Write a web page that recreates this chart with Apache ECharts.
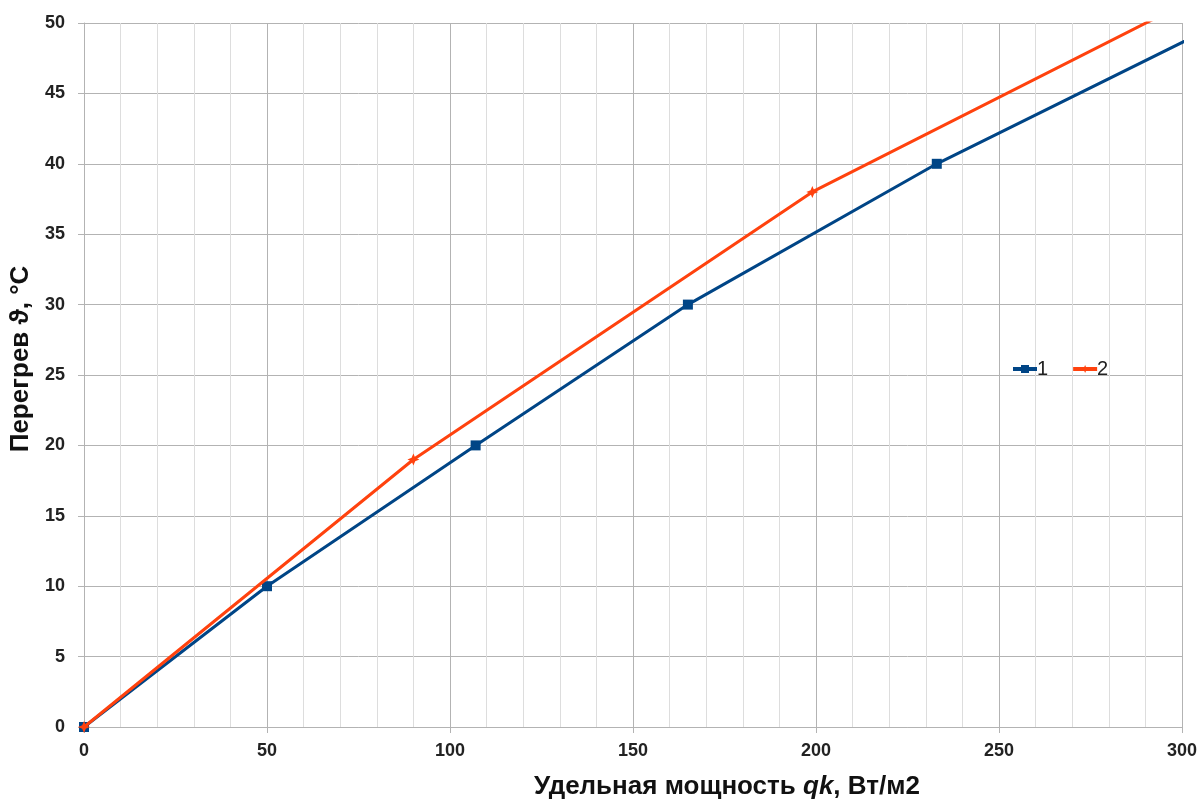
<!DOCTYPE html>
<html><head><meta charset="utf-8">
<script src="https://cdn.jsdelivr.net/npm/echarts@6/dist/echarts.min.js"></script>
<style>html,body{margin:0;padding:0;background:#fff}#c{width:1202px;height:803px}</style>
</head><body><div id="c"></div>
<script>
// Series 1 (blue, squares): x = specific power, y = overheat
const series1X = [0, 50, 107, 165, 233, 310];
const series1Y = [0, 10, 20, 30, 40, 49.9];
// Series 2 (orange, stars)
const series2X = [0, 90, 199, 300];
const series2Y = [0, 19, 38, 51.3];
const seriesNames = ['1', '2'];
const xTicks = [0, 50, 100, 150, 200, 250, 300];
const yTicks = [0, 5, 10, 15, 20, 25, 30, 35, 40, 45, 50];

const pairs = (xs, ys) => xs.map((x, i) => [x, ys[i]]);
const star = 'path://M0,-10 L3,-3 L10,0 L3,3 L0,10 L-3,3 L-10,0 L-3,-3 Z';
const font = 'Liberation Sans, Arial, sans-serif';

const chart = echarts.init(document.getElementById('c'), null, {renderer: 'canvas'});
chart.setOption({
  animation: false,
  backgroundColor: '#fff',
  grid: {left: 84, right: 20, top: 23, bottom: 76, outerBoundsMode: 'none', containLabel: false},
  legend: {
    left: 1011, top: 359, padding: 0, itemWidth: 24, itemHeight: 10, itemGap: 23,
    lineStyle: {width: 4},
    textStyle: {fontFamily: font, fontSize: 20, color: '#222', padding: [0, 0, 0, -5]},
    data: seriesNames
  },
  xAxis: {
    type: 'value', min: xTicks[0], max: xTicks[xTicks.length - 1], interval: 50,
    name: '{b|Удельная мощность }{i|qk}{b|, Вт/м2}',
    nameLocation: 'middle', nameGap: 47,
    nameTextStyle: {
      padding: [0, 0, 0, 188],
      rich: {
        b: {fontFamily: font, fontSize: 26, fontWeight: 'bold', color: '#111'},
        i: {fontFamily: font, fontSize: 26, fontWeight: 'bold', fontStyle: 'italic', color: '#111'}
      }
    },
    axisLine: {show: true, lineStyle: {color: '#b3b3b3', width: 1}},
    axisTick: {show: true, length: 6, lineStyle: {color: '#b3b3b3'}},
    axisLabel: {fontFamily: font, fontSize: 18, fontWeight: 'bold', color: '#222', margin: 15},
    splitLine: {show: true, lineStyle: {color: '#b3b3b3', width: 1}},
    minorTick: {show: false, splitNumber: 5},
    minorSplitLine: {show: true, lineStyle: {color: '#dddddd', width: 1}}
  },
  yAxis: {
    type: 'value', min: yTicks[0], max: yTicks[yTicks.length - 1], interval: 5,
    name: 'Перегрев ϑ, °C',
    nameLocation: 'middle', nameGap: 42,
    nameTextStyle: {fontFamily: font, fontSize: 26, fontWeight: 'bold', color: '#111', padding: [0, 0, 0, 32]},
    axisLine: {show: true, lineStyle: {color: '#b3b3b3', width: 1}},
    axisTick: {show: true, length: 6, lineStyle: {color: '#b3b3b3'}},
    axisLabel: {fontFamily: font, fontSize: 18, fontWeight: 'bold', color: '#222', margin: 19},
    splitLine: {show: true, lineStyle: {color: '#b3b3b3', width: 1}}
  },
  series: [
    {
      name: seriesNames[0], type: 'line', data: pairs(series1X, series1Y),
      clip: true, symbol: 'rect', symbolSize: 10, showAllSymbol: true,
      lineStyle: {color: '#004586', width: 3}, itemStyle: {color: '#004586'}, z: 2
    },
    {
      name: seriesNames[1], type: 'line', data: pairs(series2X, series2Y),
      clip: true, symbol: star, symbolSize: 12, showAllSymbol: true,
      lineStyle: {color: '#ff420e', width: 3}, itemStyle: {color: '#ff420e'}, z: 3
    }
  ]
});
</script></body></html>
